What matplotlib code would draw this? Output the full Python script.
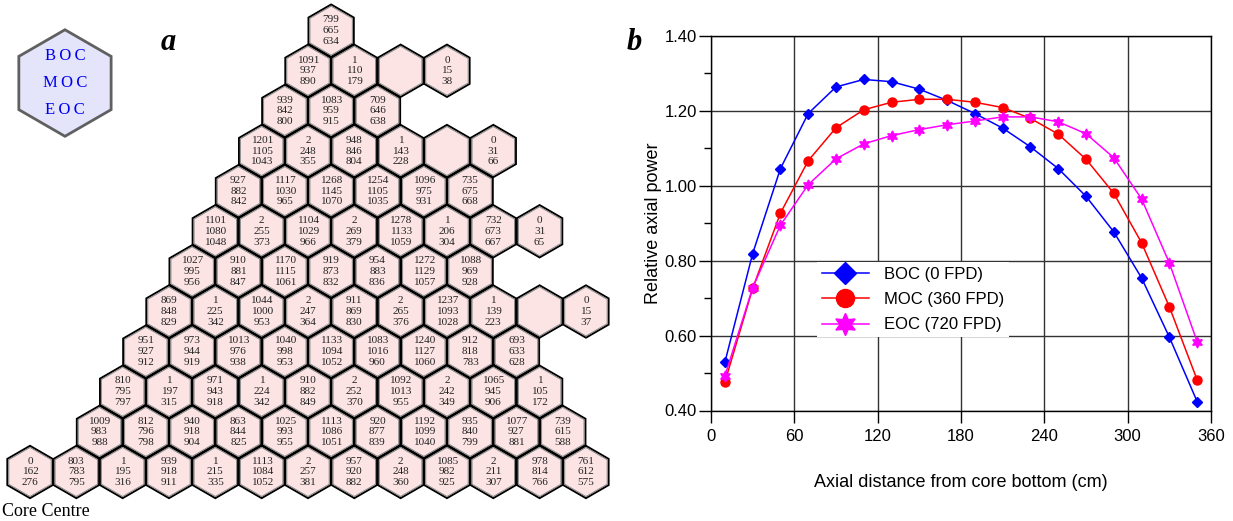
import numpy as np
import matplotlib
matplotlib.use('Agg')
import matplotlib.pyplot as plt
from matplotlib.patches import RegularPolygon

# --- panel a: core map, bottom row first, cell = "BOC/MOC/EOC", '' = empty
row0 = ['0/162/276', '803/783/795', '1/195/316', '939/918/911', '1/215/335',
        '1113/1084/1052', '2/257/381', '957/920/882', '2/248/360',
        '1085/982/925', '2/211/307', '978/814/766', '761/612/575']
row1 = ['1009/983/988', '812/796/798', '940/918/904', '863/844/825',
        '1025/993/955', '1113/1086/1051', '920/877/839', '1192/1099/1040',
        '935/840/799', '1077/927/881', '739/615/588']
row2 = ['810/795/797', '1/197/315', '971/943/918', '1/224/342', '910/882/849',
        '2/252/370', '1092/1013/955', '2/242/349', '1065/945/906', '1/105/172']
row3 = ['951/927/912', '973/944/919', '1013/976/938', '1040/998/953',
        '1133/1094/1052', '1083/1016/960', '1240/1127/1060', '912/818/783',
        '693/633/628']
row4 = ['869/848/829', '1/225/342', '1044/1000/953', '2/247/364', '911/869/830',
        '2/265/376', '1237/1093/1028', '1/139/223', '', '0/15/37']
row5 = ['1027/995/956', '910/881/847', '1170/1115/1061', '919/873/832',
        '954/883/836', '1272/1129/1057', '1088/969/928']
row6 = ['1101/1080/1048', '2/255/373', '1104/1029/966', '2/269/379',
        '1278/1133/1059', '1/206/304', '732/673/667', '0/31/65']
row7 = ['927/882/842', '1117/1030/965', '1268/1145/1070', '1254/1105/1035',
        '1096/975/931', '735/675/668']
row8 = ['1201/1105/1043', '2/248/355', '948/846/804', '1/143/228', '', '0/31/66']
row9 = ['939/842/800', '1083/959/915', '709/646/638']
row10 = ['1091/937/890', '1/110/179', '', '0/15/38']
row11 = ['799/665/634']
core_rows = [row0, row1, row2, row3, row4, row5, row6, row7, row8, row9, row10, row11]

# --- panel b: axial power
z = [10, 30, 50, 70, 90, 110, 130, 150, 170, 190, 210, 230, 250, 270, 290, 310, 330, 350]
boc = [0.529, 0.819, 1.046, 1.193, 1.264, 1.284, 1.278, 1.258, 1.228, 1.193,
       1.154, 1.104, 1.046, 0.972, 0.877, 0.754, 0.596, 0.424]
moc = [0.476, 0.726, 0.927, 1.067, 1.155, 1.203, 1.223, 1.231, 1.231, 1.223,
       1.209, 1.180, 1.138, 1.071, 0.980, 0.848, 0.677, 0.482]
eoc = [0.492, 0.728, 0.895, 1.003, 1.072, 1.112, 1.134, 1.150, 1.163, 1.173,
       1.184, 1.184, 1.171, 1.139, 1.075, 0.965, 0.794, 0.584]

serif = 'Liberation Serif'
sans = 'Liberation Sans'

fig = plt.figure(figsize=(12.33, 5.21), dpi=100)

# left panel, hex grid units (centre spacing = 1)
axL = fig.add_axes([0, 0, 620 / 1233, 1])
axL.set_xlim(-0.6475, 12.735)
axL.set_ylim(-1.058, 10.188)
axL.axis('off')

s3 = np.sqrt(3)
for r, row in enumerate(core_rows):
    q0 = 0 if r == 0 else 1
    for i, cell in enumerate(row):
        cx = q0 + i + r / 2
        cy = r * s3 / 2
        axL.add_patch(RegularPolygon((cx, cy), 6, radius=0.565, fc='#fde4e4',
                                     ec='black', lw=1.4))
        axL.add_patch(RegularPolygon((cx, cy), 6, radius=0.53, fc='none',
                                     ec='#8c8c8c', lw=0.8))
        if cell:
            for k, v in enumerate(cell.split('/')):
                axL.text(cx, cy + (1 - k) * 0.232, v, ha='center', va='center',
                         fontsize=8.1, family=serif, color='#222222')

# key hexagon
axL.add_patch(RegularPolygon((0.755, 8.396), 6, radius=1.15, fc='#e4e4fb',
                             ec='#606060', lw=2))
for k, t in enumerate(['B\u2009O\u2009C', 'M\u2009O\u2009C', 'E\u2009O\u2009C']):
    axL.text(0.755, 8.396 + (1 - k) * 0.59, t, ha='center', va='center',
             fontsize=12, family=serif, color='#0000ee')

fig.text(168 / 1233, 1 - 42 / 521, 'a', fontsize=22, family=serif,
         weight='bold', style='italic', ha='center', va='center')
fig.text(634 / 1233, 1 - 42 / 521, 'b', fontsize=22, family=serif,
         weight='bold', style='italic', ha='center', va='center')
fig.text(0.002, 1 - 512 / 521, 'Core Centre', fontsize=13, family=serif,
         ha='left', va='center')

# right panel
ax = fig.add_axes([711 / 1233, 1 - 410.5 / 521, 500 / 1233, 374.5 / 521])
ax.plot(z, boc, color='#0000ff', marker='D', ms=5.5, lw=1.1, label='BOC (0 FPD)')
ax.plot(z, moc, color='#ff0000', marker='o', ms=6.5, lw=1.1, label='MOC (360 FPD)')
ax.plot(z, eoc, color='#ff00ff', marker=(6, 1, 0), ms=8, lw=1.1, label='EOC (720 FPD)')

ax.set_xlim(0, 360)
ax.set_ylim(0.4, 1.4)
ax.set_xticks(range(0, 361, 60))
ax.set_yticks(np.arange(0.4, 1.41, 0.2))
ax.set_yticks(np.arange(0.5, 1.4, 0.2), minor=True)
ax.yaxis.set_major_formatter('{x:.2f}')
ax.grid(True, which='major', color='0.2', lw=1)
ax.set_axisbelow(True)
for sp in ax.spines.values():
    sp.set_linewidth(1)
ax.tick_params(axis='both', which='major', direction='out', length=8.6, width=1,
               labelsize=12)
ax.tick_params(axis='y', which='major', pad=1.5)
ax.tick_params(axis='x', which='major', pad=4.5)
ax.tick_params(axis='y', which='minor', direction='out', length=5, width=1)
for lab in ax.get_xticklabels() + ax.get_yticklabels():
    lab.set_family(sans)

ax.set_xlabel('Axial distance from core bottom (cm)', fontsize=13, family=sans,
              labelpad=22)
ax.set_ylabel('Relative axial power', fontsize=13, family=sans, labelpad=2)

leg = ax.legend(loc='upper left', bbox_to_anchor=(0.212, 0.397), borderaxespad=0,
                frameon=True, fancybox=False, framealpha=1, edgecolor='none',
                facecolor='white', markerscale=2, handlelength=2.8,
                handletextpad=0.9, labelspacing=0.62, borderpad=0.3,
                prop={'family': sans, 'size': 12})

fig.savefig('out.png', dpi=100)
